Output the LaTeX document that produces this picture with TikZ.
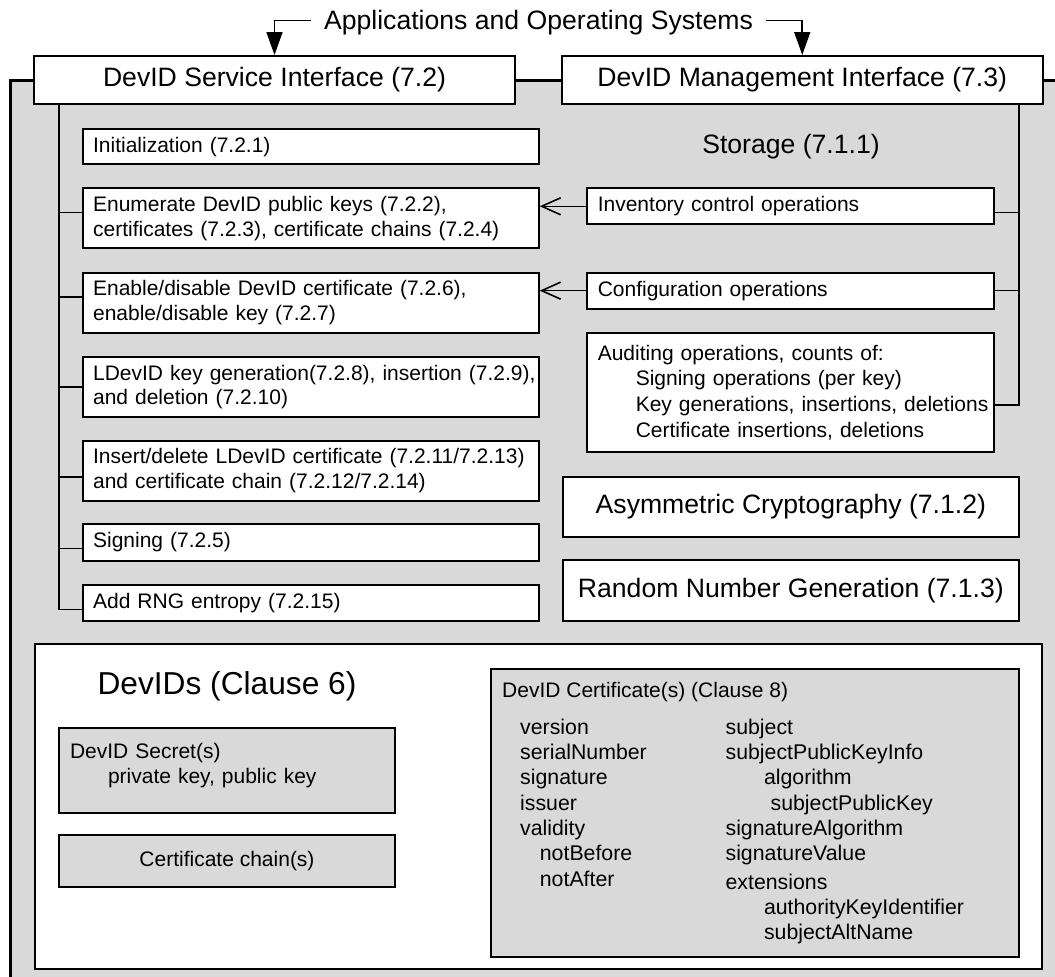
\documentclass[tikz,border=0pt]{standalone}
\usepackage{fontspec}
\setmainfont{Liberation Sans}
\usetikzlibrary{arrows.meta}
\definecolor{bggray}{RGB}{217,217,217}
\newcommand\fsHead{\fontsize{26.6pt}{31pt}\selectfont}
\newcommand\fsItem{\fontsize{21pt}{24.5pt}\selectfont}
\newcommand\fsBig{\fontsize{31.7pt}{37pt}\selectfont}
\newcommand\fsAud{\fontsize{21pt}{25.7pt}\selectfont}
\newcommand\fsCert{\fontsize{21.3pt}{25.3pt}\selectfont}
\begin{document}
\begin{tikzpicture}[x=1pt,y=-1pt,
  box/.style={draw, line width=2pt, fill=white, inner sep=0pt},
  graybox/.style={draw, line width=2pt, fill=bggray, inner sep=0pt},
  headbox/.style={box, font=\fsHead, align=center},
  itembox/.style={box, font=\fsItem, align=left, inner xsep=10.4pt, text width=435.2pt, minimum width=456pt},
  opbox/.style={box, font=\fsItem, align=left, inner xsep=11.3pt, text width=385.2pt, minimum width=407.8pt},
  ln/.style={line width=1.6pt},
  tri/.style={-{Triangle[length=23pt,width=16pt]}},
  barb/.style={-{Straight Barb[length=19pt,width=17pt,line width=1.6pt]}},
  plain/.style={inner sep=0pt}
]
\useasboundingbox (0,0) rectangle (1055,977);
\begin{scope}
  \clip (0,0) rectangle (1055,977);
  \draw[line width=3.5pt, fill=bggray] (10.3,80.7) rectangle (1100,1030);
\end{scope}

% top interfaces
\node[font=\fsHead, inner xsep=12.5pt, inner ysep=0pt, text height=19pt, text depth=1pt] (app) at (538.5,20.5) {Applications and Operating Systems};
\node[headbox, minimum width=481pt, minimum height=48pt] (svc) at (274.5,80) {DevID Service Interface (7.2)};
\node[headbox, minimum width=480.5pt, minimum height=48pt] (mgmt) at (802.25,80) {DevID Management Interface (7.3)};

% service items
\node[itembox, minimum height=35.2pt] (init) at (310.7,146.6) {Initialization (7.2.1)};
\node[itembox, minimum height=60pt] (enum) at (310.7,218.4) {\mbox{Enumerate DevID public keys (7.2.2),}\\\mbox{certificates (7.2.3), certificate chains (7.2.4)}};
\node[itembox, minimum height=60pt] (enab) at (310.7,302.6) {\mbox{Enable/disable DevID certificate (7.2.6),}\\\mbox{enable/disable key (7.2.7)}};
\node[itembox, minimum height=60pt] (ldev) at (310.7,387) {\mbox{LDevID key generation(7.2.8), insertion (7.2.9),}\\\mbox{and deletion (7.2.10)}};
\node[itembox, minimum height=60pt] (ins) at (310.7,470.7) {\mbox{Insert/delete LDevID certificate (7.2.11/7.2.13)}\\\mbox{and certificate chain (7.2.12/7.2.14)}};
\node[itembox, minimum height=36.2pt] (sign) at (310.7,542.5) {Signing (7.2.5)};
\node[itembox, minimum height=36pt] (addrng) at (310.7,602.6) {Add RNG entropy (7.2.15)};

% management side
\node[font=\fsHead, plain] (stor) at (791,147) {Storage (7.1.1)};
\node[opbox, minimum height=35.8pt] (inv) at (790.4,206.3) {Inventory control operations};
\node[opbox, minimum height=35.7pt] (conf) at (790.4,290.65) {Configuration operations};
\node[opbox, font=\fsAud, minimum height=119.7pt] (aud) at (790.4,392.45) {\mbox{Auditing operations, counts of:}\\\mbox{\hspace*{38pt}Signing operations (per key)}\\\mbox{\hspace*{38pt}Key generations, insertions, deletions}\\\mbox{\hspace*{38pt}Certificate insertions, deletions}};
\node[headbox, minimum width=456.3pt, minimum height=59.8pt] (asym) at (790.85,506.9) {Asymmetric Cryptography (7.1.2)};
\node[headbox, minimum width=456.3pt, minimum height=60.2pt] (rngb) at (790.85,590.5) {Random Number Generation (7.1.3)};

% DevIDs
\node[box, minimum width=1007.3pt, minimum height=325pt] (devids) at (538.35,806.5) {};
\node[font=\fsBig, plain] (devtitle) at (227,686.7) {DevIDs (Clause 6)};
\node[graybox, font=\fsItem, align=left, inner xsep=11pt, text width=314pt, minimum width=336pt, minimum height=84.4pt, text depth=38.5pt] (secret) at (227,770.5) {DevID Secret(s)\\\hspace*{38pt}private key, public key};
\node[graybox, font=\fsItem, minimum width=336pt, minimum height=51.7pt] (chain) at (227,860.85) {Certificate chain(s)};
\node[graybox, minimum width=528.3pt, minimum height=287.7pt] (cert) at (755.15,812.85) {};
\node[font=\fsItem, plain, anchor=west] (certtitle) at (502,691.7) {DevID Certificate(s) (Clause 8)};
\node[font=\fsCert, plain, align=left, anchor=north west] (certl) at (520,716.3) {\strut version\\serialNumber\\signature\\issuer\\validity\\\hspace*{19.7pt}notBefore\\\hspace*{19.7pt}notAfter};
\node[font=\fsCert, plain, align=left, anchor=north west] (certr) at (725.4,716.3) {\strut subject\\subjectPublicKeyInfo\\\hspace*{38.4pt}algorithm\\\hspace*{45pt}subjectPublicKey\\signatureAlgorithm\\signatureValue\\[3pt]extensions\\\hspace*{38.4pt}authorityKeyIdentifier\\\hspace*{38.4pt}subjectAltName};

% connectors: top arrows
\draw[ln, tri] (app.west) -| (svc.north);
\draw[ln, tri] (app.east) -| (mgmt.north);

% left stem
\coordinate (lstem) at (59,0);
\coordinate (tEnum) at ([yshift=5.8pt]enum.west);
\coordinate (tEnab) at ([yshift=5.8pt]enab.west);
\coordinate (tLdev) at (ldev.west);
\coordinate (tIns) at ([yshift=-6pt]ins.west);
\coordinate (tSign) at ([yshift=-5.8pt]sign.west);
\coordinate (tRng) at ([yshift=-6.7pt]addrng.west);
\draw[ln] (lstem |- svc.south) -- (lstem |- tRng) -- (tRng);
\foreach \t in {tEnum,tEnab,tLdev,tIns,tSign}
  \draw[ln] (lstem |- \t) -- (\t);

% right stem
\coordinate (rstem) at (1018.7,0);
\coordinate (tInv) at ([yshift=-6pt]inv.east);
\coordinate (tConf) at (conf.east);
\coordinate (tAud) at ([yshift=-12.5pt]aud.east);
\draw[ln] (rstem |- mgmt.south) -- (rstem |- tAud) -- (tAud);
\draw[ln] (rstem |- tInv) -- (tInv);
\draw[ln] (rstem |- tConf) -- (tConf);

% operation arrows
\draw[ln, barb] (inv.west) -- (enum.east |- inv.west);
\draw[ln, barb] (conf.west) -- (enab.east |- conf.west);
\end{tikzpicture}
\end{document}
